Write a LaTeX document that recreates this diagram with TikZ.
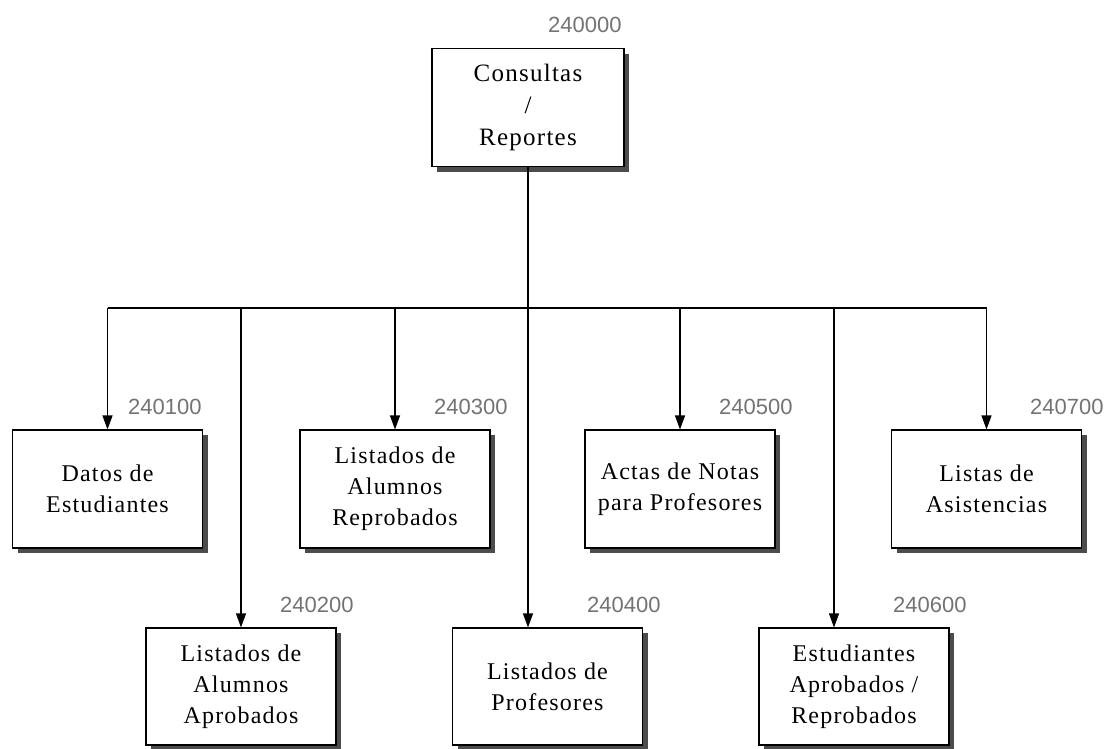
\documentclass[tikz,border=0pt]{standalone}
\usepackage{fontspec}
\setmainfont{Liberation Serif}
\newfontfamily\boxfont[LetterSpace=5]{Liberation Serif}
\newfontfamily\numfont{Liberation Sans}
\usetikzlibrary{arrows.meta,shadows}

\begin{document}
\begin{tikzpicture}[x=1pt,y=-1pt,
    box/.style={draw,fill=white,line width=1.1pt,align=center,
      minimum width=190pt,minimum height=118pt,inner sep=0pt,
      font=\boxfont\fontsize{24}{31}\selectfont,
      drop shadow={shadow xshift=5pt,shadow yshift=-5pt,fill=black!70,opacity=1}},
    code/.style={anchor=west,inner sep=0pt,text=black!55,
      font=\numfont\fontsize{22}{22}\selectfont},
    link/.style={line width=1.1pt},
    arrow/.style={link,-{Triangle[length=14pt,width=10pt]}}]
  \useasboundingbox (0,0) rectangle (1105,748);
  % Modulo principal
  \node[box,font=\boxfont\fontsize{25}{32}\selectfont,minimum width=192pt]
    (main) at (528,107.5) {Consultas\\/\\Reportes};
  \node[code] (c0) at (548,25) {240000};
  % Primera fila
  \node[box] (datos)  at (107.5,489) {Datos de\\Estudiantes};
  \node[box] (reprob) at (395,489)   {Listados de\\Alumnos\\Reprobados};
  \node[box] (actas)  at (680,489)   {Actas de Notas\\para Profesores};
  \node[box] (listas) at (986.5,489) {Listas de\\Asistencias};
  \node[code] (c1) at (128,407)  {240100};
  \node[code] (c3) at (434,407)  {240300};
  \node[code] (c5) at (719,407)  {240500};
  \node[code] (c7) at (1030,407) {240700};
  % Segunda fila
  \node[box,minimum height=117pt] (aprob) at (241,686.5)   {Listados de\\Alumnos\\Aprobados};
  \node[box,minimum height=117pt] (prof)  at (547.5,686.5) {Listados de\\Profesores};
  \node[box,minimum height=117pt] (estud) at (854,686.5)   {Estudiantes\\Aprobados /\\Reprobados};
  \node[code] (c2) at (280,605) {240200};
  \node[code] (c4) at (587,605) {240400};
  \node[code] (c6) at (893,605) {240600};
  % Conectores
  \coordinate (bus) at (528,308);
  \coordinate (b6) at (834,308);
  \draw[link] (main) -- (bus);
  \draw[link] (bus -| datos) -- (bus -| listas);
  \foreach \n in {datos,reprob,actas,listas,aprob}{
    \draw[arrow] (bus -| \n) -- (\n);
  }
  \draw[arrow] (bus) -- (bus |- prof.north);
  \draw[arrow] (b6) -- (b6 |- estud.north);
\end{tikzpicture}
\end{document}
